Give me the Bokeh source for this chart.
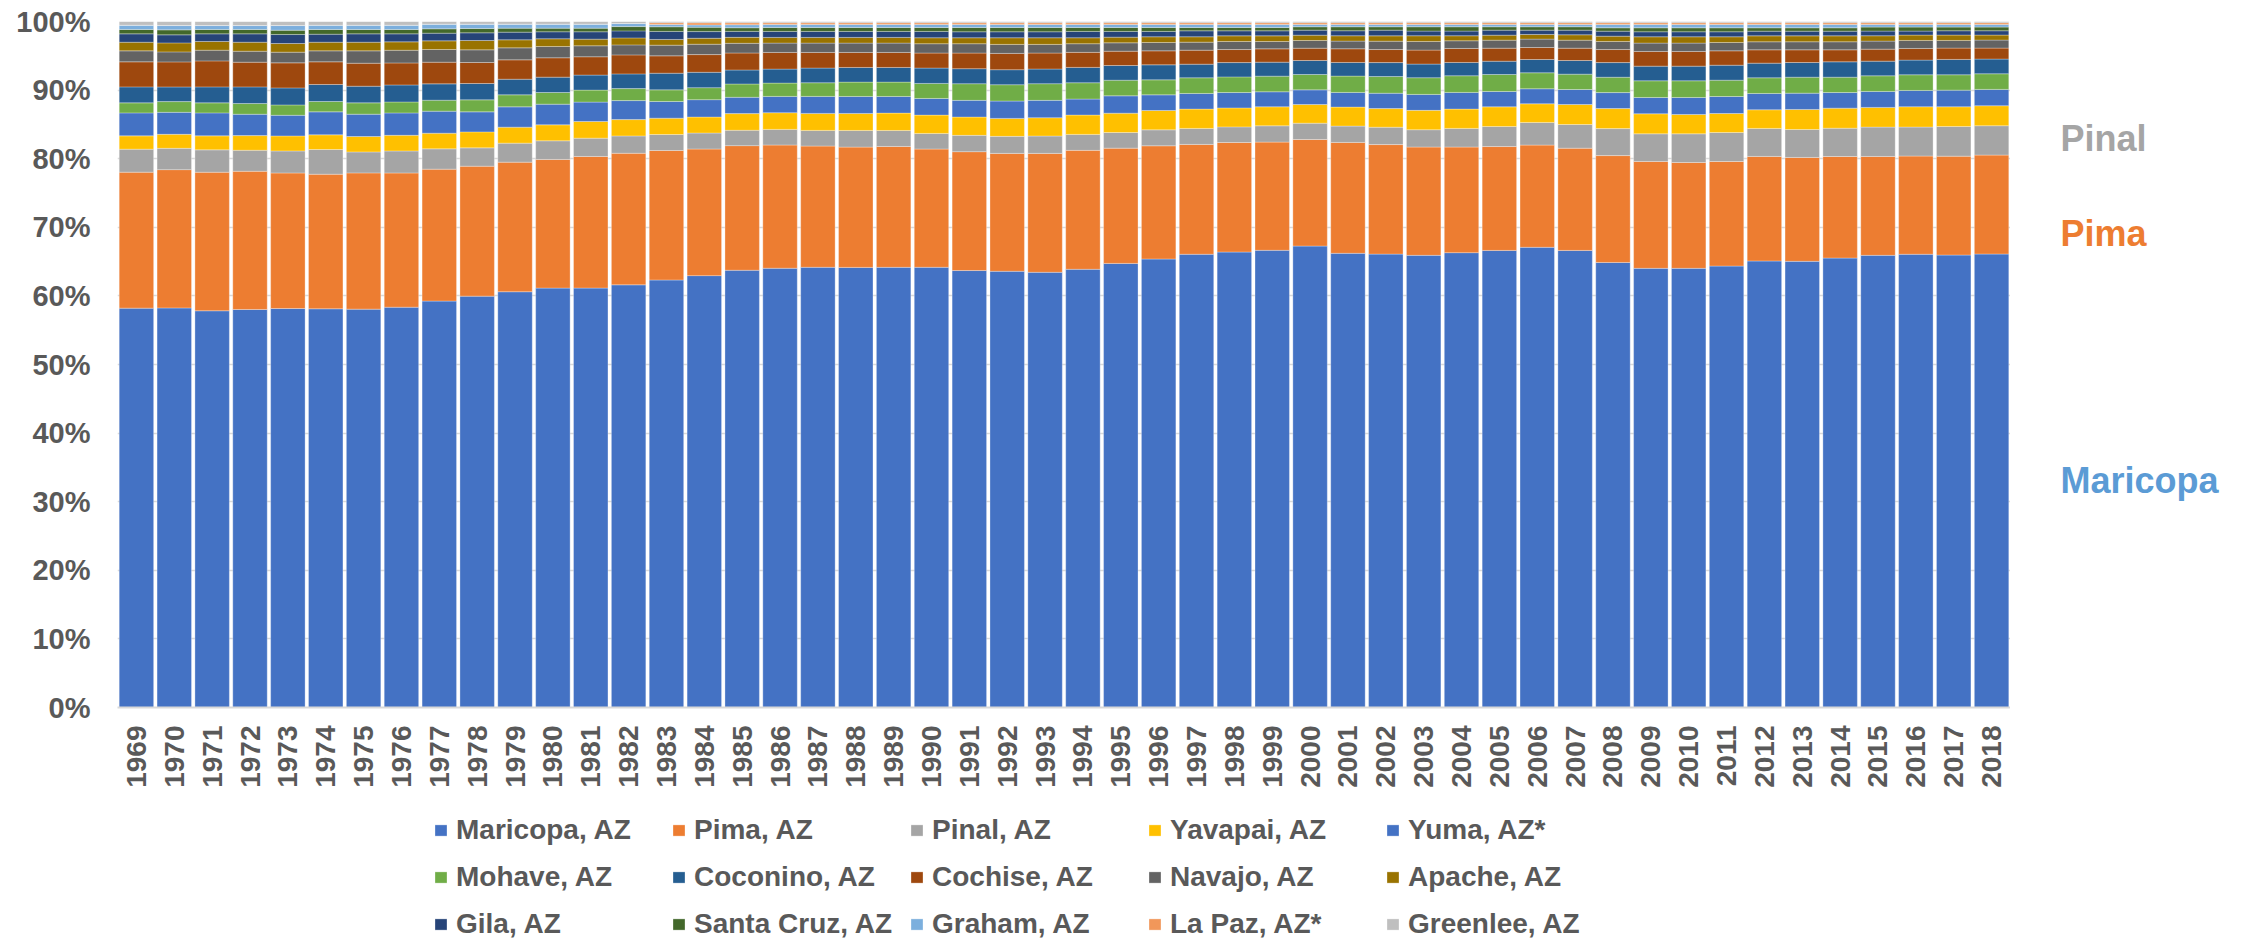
import numpy as np
from bokeh.plotting import figure
from bokeh.layouts import column, row
from bokeh.models import (ColumnDataSource, FactorRange, Legend, LegendItem, Label,
                          FixedTicker, PrintfTickFormatter)
from bokeh.embed import file_html
from bokeh.resources import INLINE

years = [str(y) for y in range(1969, 2019)]

maricopa = [58.21, 58.26, 57.83, 58.02, 58.17, 58.12, 58.07, 58.36, 59.24, 59.96,
            60.60, 61.13, 61.13, 61.62, 62.35, 62.93, 63.75, 64.05, 64.19, 64.19,
            64.19, 64.19, 63.71, 63.61, 63.46, 63.90, 64.77, 65.41, 66.09, 66.43,
            66.67, 67.30, 66.23, 66.13, 65.94, 66.33, 66.67, 67.11, 66.67, 64.92,
            64.05, 64.05, 64.39, 65.11, 65.07, 65.55, 65.94, 66.09, 65.99, 66.13]
pima = [19.82, 20.16, 20.20, 20.15, 19.76, 19.62, 19.86, 19.57, 19.23, 18.94,
        18.89, 18.75, 19.18, 19.18, 18.89, 18.45, 18.17, 17.97, 17.68, 17.54,
        17.63, 17.24, 17.33, 17.19, 17.34, 17.34, 16.81, 16.51, 16.02, 15.97,
        15.78, 15.54, 16.17, 15.98, 15.79, 15.40, 15.15, 14.91, 14.91, 15.59,
        15.59, 15.44, 15.25, 15.25, 15.15, 14.81, 14.42, 14.32, 14.42, 14.43]
pinal = [3.35, 3.11, 3.26, 3.06, 3.21, 3.60, 3.06, 3.21, 2.96, 2.67,
         2.77, 2.72, 2.67, 2.53, 2.33, 2.33, 2.24, 2.28, 2.28, 2.43,
         2.33, 2.28, 2.38, 2.48, 2.53, 2.33, 2.28, 2.33, 2.33, 2.28,
         2.38, 2.38, 2.38, 2.53, 2.53, 2.72, 2.92, 3.30, 3.45, 3.94,
         4.03, 4.18, 4.23, 4.08, 4.08, 4.13, 4.28, 4.23, 4.33, 4.28]
yavapai = [1.94, 2.04, 2.04, 2.14, 2.19, 2.14, 2.24, 2.28, 2.28, 2.33,
           2.33, 2.33, 2.43, 2.38, 2.38, 2.33, 2.43, 2.43, 2.48, 2.48,
           2.53, 2.67, 2.67, 2.62, 2.67, 2.82, 2.82, 2.82, 2.82, 2.77,
           2.77, 2.72, 2.77, 2.72, 2.82, 2.82, 2.87, 2.72, 2.92, 2.92,
           2.92, 2.82, 2.77, 2.72, 2.92, 2.92, 2.87, 2.96, 2.87, 2.92]
yuma = [3.35, 3.21, 3.35, 3.11, 3.01, 3.35, 3.26, 3.26, 3.21, 2.92,
        2.96, 3.01, 2.82, 2.77, 2.43, 2.53, 2.38, 2.38, 2.48, 2.48,
        2.43, 2.43, 2.43, 2.53, 2.53, 2.33, 2.53, 2.28, 2.28, 2.24,
        2.19, 2.14, 2.14, 2.24, 2.33, 2.43, 2.24, 2.19, 2.19, 2.33,
        2.38, 2.48, 2.48, 2.38, 2.38, 2.28, 2.33, 2.38, 2.43, 2.38]
mohave = [1.46, 1.56, 1.46, 1.56, 1.51, 1.51, 1.65, 1.60, 1.60, 1.75,
          1.75, 1.70, 1.75, 1.75, 1.70, 1.75, 1.94, 1.94, 1.99, 2.09,
          2.09, 2.19, 2.43, 2.38, 2.43, 2.38, 2.28, 2.19, 2.28, 2.28,
          2.28, 2.24, 2.38, 2.43, 2.43, 2.43, 2.48, 2.33, 2.24, 2.24,
          2.43, 2.43, 2.38, 2.28, 2.33, 2.24, 2.28, 2.28, 2.24, 2.28]
coconino = [2.33, 2.14, 2.33, 2.43, 2.48, 2.48, 2.43, 2.48, 2.38, 2.38,
            2.28, 2.24, 2.19, 2.14, 2.43, 2.24, 2.04, 2.04, 2.14, 2.14,
            2.14, 2.24, 2.19, 2.19, 2.14, 2.24, 2.14, 2.19, 1.99, 2.09,
            2.04, 2.04, 1.99, 2.04, 1.99, 1.94, 1.94, 1.94, 1.99, 2.14,
            2.14, 2.14, 2.19, 2.14, 2.14, 2.24, 2.14, 2.14, 2.24, 2.14]
cochise = [3.65, 3.65, 3.79, 3.60, 3.65, 3.30, 3.35, 3.21, 3.16, 3.06,
           2.82, 2.82, 2.67, 2.77, 2.53, 2.58, 2.48, 2.43, 2.28, 2.19,
           2.19, 2.19, 2.28, 2.38, 2.33, 2.19, 2.09, 2.04, 2.04, 1.90,
           1.94, 1.80, 1.99, 1.90, 2.04, 2.04, 1.90, 1.75, 1.80, 1.90,
           2.14, 2.14, 2.09, 1.94, 1.85, 1.75, 1.75, 1.70, 1.65, 1.60]
navajo = [1.60, 1.46, 1.56, 1.60, 1.56, 1.60, 1.80, 1.85, 1.85, 1.85,
          1.75, 1.65, 1.60, 1.46, 1.56, 1.51, 1.41, 1.36, 1.36, 1.36,
          1.36, 1.36, 1.36, 1.31, 1.26, 1.26, 1.22, 1.22, 1.17, 1.17,
          1.07, 1.12, 1.12, 1.22, 1.26, 1.12, 1.17, 1.22, 1.17, 1.17,
          1.22, 1.22, 1.22, 1.17, 1.17, 1.17, 1.17, 1.17, 1.12, 1.17]
apache = [1.26, 1.31, 1.26, 1.31, 1.26, 1.26, 1.26, 1.22, 1.26, 1.36,
          1.17, 1.12, 0.97, 1.02, 0.83, 0.87, 0.87, 0.83, 0.83, 0.83,
          0.83, 0.87, 0.87, 0.97, 0.97, 0.87, 0.83, 0.83, 0.78, 0.83,
          0.83, 0.78, 0.78, 0.78, 0.83, 0.73, 0.73, 0.68, 0.78, 0.78,
          0.92, 0.92, 0.83, 0.87, 0.87, 0.87, 0.78, 0.78, 0.78, 0.73]
gila = [1.22, 1.17, 1.12, 1.22, 1.31, 1.17, 1.22, 1.17, 1.12, 1.12,
        1.12, 1.02, 1.07, 1.02, 1.17, 0.97, 0.87, 0.87, 0.87, 0.87,
        0.87, 0.92, 0.87, 0.87, 0.87, 0.92, 0.83, 0.78, 0.87, 0.73,
        0.73, 0.73, 0.73, 0.83, 0.68, 0.68, 0.73, 0.63, 0.68, 0.73,
        0.73, 0.73, 0.73, 0.68, 0.68, 0.68, 0.68, 0.58, 0.63, 0.63]
santa_cruz = [0.63, 0.73, 0.63, 0.63, 0.63, 0.68, 0.63, 0.63, 0.63, 0.63,
              0.58, 0.53, 0.53, 0.63, 0.68, 0.63, 0.53, 0.58, 0.58, 0.58,
              0.58, 0.58, 0.63, 0.63, 0.63, 0.58, 0.58, 0.58, 0.49, 0.49,
              0.49, 0.49, 0.58, 0.49, 0.63, 0.63, 0.49, 0.49, 0.49, 0.49,
              0.58, 0.58, 0.58, 0.49, 0.49, 0.49, 0.58, 0.58, 0.53, 0.53]
graham = [0.63, 0.63, 0.58, 0.58, 0.68, 0.63, 0.63, 0.63, 0.68, 0.63,
          0.58, 0.58, 0.58, 0.44, 0.34, 0.34, 0.44, 0.44, 0.44, 0.44,
          0.44, 0.44, 0.44, 0.44, 0.44, 0.44, 0.44, 0.44, 0.44, 0.44,
          0.44, 0.34, 0.34, 0.34, 0.34, 0.34, 0.34, 0.34, 0.34, 0.49,
          0.49, 0.49, 0.49, 0.49, 0.49, 0.49, 0.39, 0.39, 0.39, 0.39]
la_paz = [0.0, 0.0, 0.0, 0.0, 0.0, 0.0, 0.0, 0.0, 0.0, 0.0,
          0.0, 0.0, 0.0, 0.0, 0.25, 0.32, 0.29, 0.25, 0.25, 0.25,
          0.25, 0.25, 0.25, 0.25, 0.25, 0.25, 0.25, 0.25, 0.25, 0.25,
          0.25, 0.25, 0.25, 0.25, 0.25, 0.25, 0.25, 0.25, 0.25, 0.25,
          0.25, 0.25, 0.25, 0.25, 0.25, 0.25, 0.25, 0.25, 0.25, 0.25]
greenlee = [0.54, 0.59, 0.59, 0.59, 0.59, 0.54, 0.54, 0.54, 0.39, 0.39,
            0.39, 0.39, 0.39, 0.30, 0.18, 0.18, 0.18, 0.18, 0.18, 0.18,
            0.18, 0.18, 0.18, 0.18, 0.18, 0.18, 0.18, 0.18, 0.18, 0.18,
            0.18, 0.18, 0.18, 0.18, 0.18, 0.18, 0.18, 0.18, 0.18, 0.18,
            0.18, 0.18, 0.18, 0.18, 0.18, 0.18, 0.18, 0.18, 0.18, 0.18]

counties = ["Maricopa, AZ", "Pima, AZ", "Pinal, AZ", "Yavapai, AZ", "Yuma, AZ*",
            "Mohave, AZ", "Coconino, AZ", "Cochise, AZ", "Navajo, AZ", "Apache, AZ",
            "Gila, AZ", "Santa Cruz, AZ", "Graham, AZ", "La Paz, AZ*", "Greenlee, AZ"]
series = [maricopa, pima, pinal, yavapai, yuma, mohave, coconino, cochise,
          navajo, apache, gila, santa_cruz, graham, la_paz, greenlee]
colors = ["#4472C4", "#ED7D31", "#A5A5A5", "#FFC000", "#4472C4",
          "#70AD47", "#255E91", "#9E480E", "#636363", "#997300",
          "#264478", "#43682B", "#7CAFDD", "#F1975A", "#BFBFBF"]

side_labels = ["Pinal", "Pima", "Maricopa"]
side_label_y = [82.9, 69.1, 33.1]
side_label_colors = ["#A5A5A5", "#ED7D31", "#5B9BD5"]

y_ticks = list(range(0, 101, 10))

# 100% stacked: normalise each year's shares to 100
arr = np.array(series, dtype=float)
arr = arr / arr.sum(axis=0) * 100.0
keys = [f"s{i}" for i in range(len(series))]
data = {"year": years}
for k, r in zip(keys, arr):
    data[k] = r
source = ColumnDataSource(data)

FONT = "Liberation Sans"
TXT = "#595959"
TOP, BOTTOM = 21, 93
MAIN_H = 800

# ---------------- main chart ----------------
p = figure(x_range=FactorRange(factors=years, range_padding=0), y_range=(0, 100),
           width=2010, height=MAIN_H, output_backend="svg", toolbar_location=None,
           min_border_left=117, min_border_right=0, min_border_top=TOP,
           min_border_bottom=BOTTOM)
p.outline_line_color = None

renderers = p.vbar_stack(keys, x="year", width=0.91, source=source,
                         fill_color=colors, line_color="white",
                         line_width=0.6, line_alpha=0.5)

p.ygrid.grid_line_color = "#D9D9D9"
p.ygrid.grid_line_width = 1.5
p.xgrid.grid_line_color = None

p.yaxis.ticker = FixedTicker(ticks=y_ticks)
p.yaxis.formatter = PrintfTickFormatter(format="%d%%")
p.yaxis.axis_line_color = None
p.yaxis.major_tick_line_color = None
p.yaxis.minor_tick_line_color = None
p.yaxis.major_tick_out = 0
p.yaxis.major_tick_in = 0
p.yaxis.major_label_standoff = 27
p.yaxis.major_label_text_font = FONT
p.yaxis.major_label_text_font_style = "bold"
p.yaxis.major_label_text_font_size = "29px"
p.yaxis.major_label_text_color = TXT

p.xaxis.axis_line_color = "#D9D9D9"
p.xaxis.axis_line_width = 2
p.xaxis.major_tick_line_color = None
p.xaxis.major_tick_out = 0
p.xaxis.major_tick_in = 0
p.xaxis.major_label_orientation = np.pi / 2
p.xaxis.major_label_standoff = 18
p.xaxis.major_label_text_font = FONT
p.xaxis.major_label_text_font_style = "bold"
p.xaxis.major_label_text_font_size = "28px"
p.xaxis.major_label_text_color = TXT

# ---------------- side labels (same vertical scale) ----------------
side = figure(x_range=(0, 230), y_range=(0, 100), width=230, height=MAIN_H,
              output_backend="svg", toolbar_location=None,
              x_axis_location=None, y_axis_location=None,
              min_border_left=0, min_border_right=0,
              min_border_top=TOP, min_border_bottom=BOTTOM)
side.outline_line_color = None
side.grid.visible = False
for txt, yv, col in zip(side_labels, side_label_y, side_label_colors):
    side.add_layout(Label(x=50, y=yv, text=txt, text_baseline="middle",
                          text_font=FONT, text_font_style="bold",
                          text_font_size="36px", text_color=col))

# ---------------- legend strip ----------------
LEG_H = 145
leg = figure(x_range=(0, 1), y_range=(0, 1), width=2240, height=LEG_H,
             output_backend="svg", toolbar_location=None,
             x_axis_location=None, y_axis_location=None, min_border=0)
leg.outline_line_color = None
leg.grid.visible = False
# swatch renderers lie outside the visible range; they only feed the legend
swatches = [leg.vbar(x=[5.0], top=[1.0], width=0.1, fill_color=c, line_color="white",
                     line_width=0.6, line_alpha=0.5) for c in colors]
items = [LegendItem(label=c, renderers=[r]) for c, r in zip(counties, swatches)]
legend = Legend(items=items, location=(433, 4), orientation="horizontal", ncols=5,
                glyph_width=15, glyph_height=14, label_standoff=8, label_width=203,
                label_height=35, spacing=12, padding=0, margin=0,
                border_line_color=None, background_fill_alpha=0,
                label_text_font=FONT, label_text_font_style="bold",
                label_text_font_size="28px", label_text_color=TXT)
leg.add_layout(legend)

layout = column(row(p, side), leg)
open("out.html", "w").write(file_html(layout, INLINE))
